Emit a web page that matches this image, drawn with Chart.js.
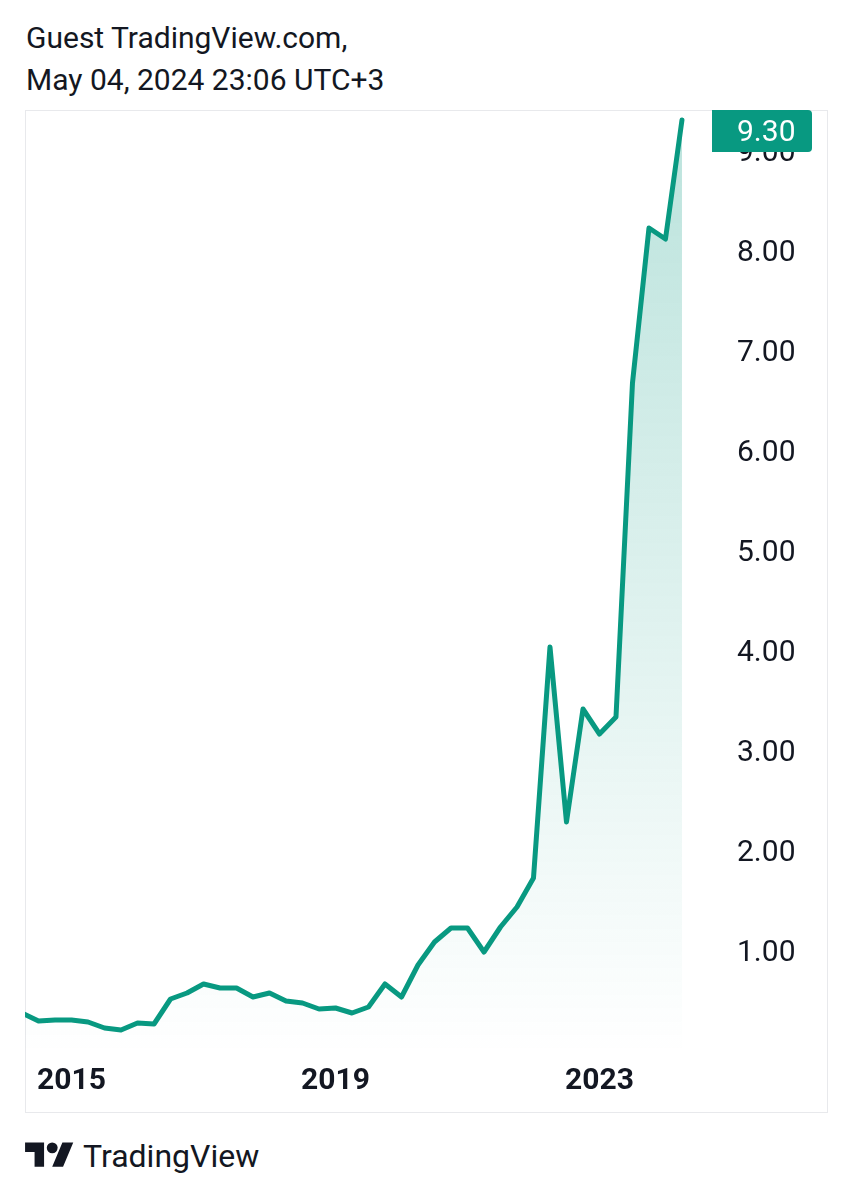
<!DOCTYPE html>
<html>
<head>
<meta charset="utf-8">
<script src="https://cdn.jsdelivr.net/npm/chart.js@4.4.1/dist/chart.umd.min.js"></script>
<style>
  body { margin: 0; background: #fff; font-family: Roboto, sans-serif; color: #131722; }
  .head { position: absolute; left: 26px; font-size: 30px; line-height: 1; }
  #frame { position: absolute; left: 25px; top: 110px; width: 803px; height: 1003px; box-sizing: border-box; border: 1px solid #e8e9ec; }
  #chart { position: absolute; left: 25px; top: 110px; }
  #logo { position: absolute; left: 25px; top: 1137px; }
  #brand { position: absolute; left: 83px; top: 1140px; font-size: 32px; line-height: 1; }
</style>
</head>
<body>
<div class="head" style="top:23px">Guest TradingView.com,</div>
<div class="head" style="top:65px">May 04, 2024 23:06 UTC+3</div>
<div id="frame"></div>
<canvas id="chart" width="802" height="1002"></canvas>
<svg id="logo" width="49" height="38" viewBox="0 0 36 28"><path fill="#131722" d="M14 22H7V11H0V4h14v18zM28 22h-8l7.5-18h8L28 22z"/><circle fill="#131722" cx="20" cy="8" r="4"/></svg>
<div id="brand">TradingView</div>
<script>
// quarterly closes
const quarters = [
  '2014-Q2', '2014-Q3', '2014-Q4',
  '2015-Q1', '2015-Q2', '2015-Q3', '2015-Q4',
  '2016-Q1', '2016-Q2', '2016-Q3', '2016-Q4',
  '2017-Q1', '2017-Q2', '2017-Q3', '2017-Q4',
  '2018-Q1', '2018-Q2', '2018-Q3', '2018-Q4',
  '2019-Q1', '2019-Q2', '2019-Q3', '2019-Q4',
  '2020-Q1', '2020-Q2', '2020-Q3', '2020-Q4',
  '2021-Q1', '2021-Q2', '2021-Q3', '2021-Q4',
  '2022-Q1', '2022-Q2', '2022-Q3', '2022-Q4',
  '2023-Q1', '2023-Q2', '2023-Q3', '2023-Q4',
  '2024-Q1', '2024-Q2'
];
const prices = [
  0.37, 0.29, 0.30,
  0.30, 0.28, 0.22, 0.20,
  0.27, 0.26, 0.51, 0.57,
  0.66, 0.62, 0.62, 0.53,
  0.57, 0.49, 0.47, 0.41,
  0.42, 0.37, 0.43, 0.66,
  0.53, 0.85, 1.08, 1.22,
  1.22, 0.98, 1.23, 1.43,
  1.72, 4.03, 2.28, 3.41,
  3.16, 3.33, 6.67, 8.22,
  8.11, 9.30
];
const yearTicks = [2015, 2019, 2023];
const priceTicks = [1, 2, 3, 4, 5, 6, 7, 8, 9];

const green = '#089981';

function quarterToYear(q) {
  const parts = q.split('-Q');
  return parseInt(parts[0]) + (parseInt(parts[1]) - 1) / 4;
}

const points = quarters.map((q, i) => ({ x: quarterToYear(q), y: prices[i] }));

const lastLabel = {
  id: 'lastLabel',
  afterDraw(chart) {
    const ctx = chart.ctx;
    const yScale = chart.scales.y;
    const area = chart.chartArea;
    const last = prices[prices.length - 1];
    let cy = yScale.getPixelForValue(last);
    cy = Math.max(cy, area.top + 21);
    const x = area.right, w = 100, h = 42, r = 4;
    ctx.save();
    ctx.fillStyle = green;
    ctx.beginPath();
    ctx.moveTo(x, cy - h / 2);
    ctx.lineTo(x + w - r, cy - h / 2);
    ctx.quadraticCurveTo(x + w, cy - h / 2, x + w, cy - h / 2 + r);
    ctx.lineTo(x + w, cy + h / 2 - r);
    ctx.quadraticCurveTo(x + w, cy + h / 2, x + w - r, cy + h / 2);
    ctx.lineTo(x, cy + h / 2);
    ctx.closePath();
    ctx.fill();
    ctx.fillStyle = '#ffffff';
    ctx.font = '30px Roboto';
    ctx.textBaseline = 'middle';
    ctx.textAlign = 'left';
    ctx.fillText(last.toFixed(2), x + 25, cy + 2);
    ctx.restore();
  }
};

const ctx = document.getElementById('chart').getContext('2d');
new Chart(ctx, {
  type: 'line',
  data: {
    datasets: [{
      data: points,
      borderColor: green,
      borderWidth: 5,
      borderJoinStyle: 'round',
      borderCapStyle: 'round',
      pointRadius: 0,
      tension: 0,
      fill: 'start',
      backgroundColor: (c) => {
        const a = c.chart.chartArea;
        if (!a) return 'rgba(8,153,129,0.2)';
        const g = c.chart.ctx.createLinearGradient(0, a.top, 0, a.bottom);
        g.addColorStop(0, 'rgba(8,153,129,0.28)');
        g.addColorStop(1, 'rgba(8,153,129,0)');
        return g;
      }
    }]
  },
  options: {
    responsive: false,
    devicePixelRatio: 1,
    animation: false,
    layout: { padding: 0 },
    plugins: { legend: { display: false }, tooltip: { enabled: false } },
    scales: {
      x: {
        type: 'linear',
        min: 2014.295,
        max: 2024.705,
        grid: { display: false, drawTicks: false },
        border: { display: false },
        afterBuildTicks: (axis) => { axis.ticks = yearTicks.map(v => ({ value: v })); },
        afterFit: (axis) => {
          axis.height = 57;
          axis.paddingLeft = 0;
          axis.paddingRight = 0;
        },
        ticks: {
          padding: 8,
          maxRotation: 0,
          autoSkip: false,
          color: '#131722',
          font: { family: 'Roboto', size: 30, weight: 'bold' },
          callback: (v) => String(v)
        }
      },
      y: {
        position: 'right',
        min: -0.05,
        max: 9.40,
        grid: { display: false, drawTicks: false },
        border: { display: false },
        afterBuildTicks: (axis) => { axis.ticks = priceTicks.map(v => ({ value: v })); },
        afterFit: (axis) => {
          axis.width = 115;
          axis.paddingTop = 0;
          axis.paddingBottom = 0;
        },
        ticks: {
          padding: 25,
          labelOffset: 3,
          crossAlign: 'near',
          color: '#131722',
          font: { family: 'Roboto', size: 30 },
          callback: (v) => v.toFixed(2)
        }
      }
    }
  },
  plugins: [lastLabel]
});
</script>
</body>
</html>
